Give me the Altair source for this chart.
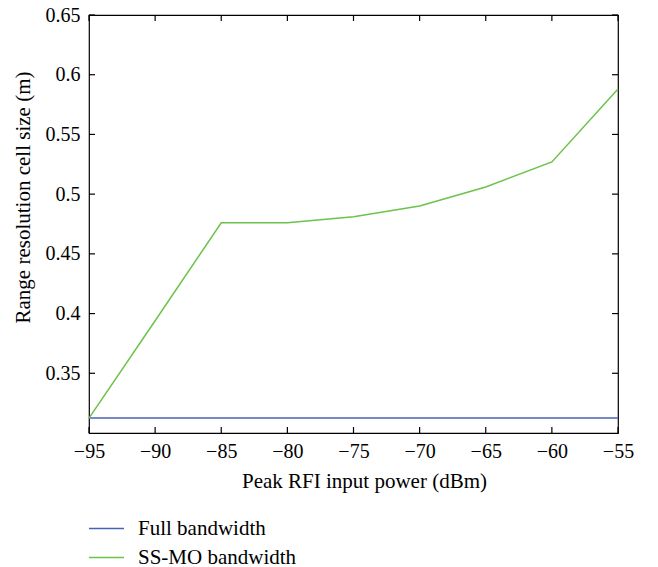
import altair as alt
import pandas as pd

power_dbm = [-95, -90, -85, -80, -75, -70, -65, -60, -55]
full_bw = [0.3125, 0.3125, 0.3125, 0.3125, 0.3125, 0.3125, 0.3125, 0.3125, 0.3125]
ssmo_bw = [0.3125, 0.394, 0.476, 0.476, 0.481, 0.490, 0.506, 0.527, 0.588]
series_names = ["Full bandwidth", "SS-MO bandwidth"]
series_colors = ["#4563b5", "#6cc24a"]
x_ticks = [-95, -90, -85, -80, -75, -70, -65, -60, -55]
y_ticks = [0.35, 0.4, 0.45, 0.5, 0.55, 0.6, 0.65]

rows = []
for x, a, b in zip(power_dbm, full_bw, ssmo_bw):
    rows.append({"power": x, "value": a, "series": series_names[0]})
    rows.append({"power": x, "value": b, "series": series_names[1]})
df = pd.DataFrame(rows)
xt = pd.DataFrame({"t": x_ticks})
yt = pd.DataFrame({"t": y_ticks})

W, H, TL = 529, 418, 6
FONT = "Liberation Serif"
xscale = alt.Scale(domain=[-95, -55], nice=False, zero=False)
yscale = alt.Scale(domain=[0.3, 0.65], nice=False, zero=False)

main = alt.Chart(df).mark_line(strokeWidth=1.5).encode(
    x=alt.X("power:Q", scale=xscale,
            axis=alt.Axis(values=x_ticks, title="Peak RFI input power (dBm)", orient="bottom",
                          ticks=False, domain=False, grid=False, labelFlush=False,
                          labelPadding=8, titleX=275, titleY=48, titleBaseline="middle",
                          titleAlign="center",
                          labelFont=FONT, labelFontSize=20, labelColor="black",
                          titleFont=FONT, titleFontSize=21, titleFontWeight="normal", titleColor="black")),
    y=alt.Y("value:Q", scale=yscale,
            axis=alt.Axis(values=y_ticks, format="~g", title="Range resolution cell size (m)", orient="left",
                          ticks=False, domain=False, grid=False, labelFlush=False,
                          labelPadding=9, titleX=-66, titleY=182, titleBaseline="middle",
                          labelFont=FONT, labelFontSize=20, labelColor="black",
                          titleFont=FONT, titleFontSize=21, titleFontWeight="normal", titleColor="black")),
    color=alt.Color("series:N", sort=series_names,
                    scale=alt.Scale(domain=series_names, range=series_colors),
                    legend=alt.Legend(title=None, orient="none", legendX=-1, legendY=495,
                                      symbolType="stroke", symbolSize=1225, symbolStrokeWidth=1.5,
                                      labelFont=FONT, labelFontSize=21, labelColor="black",
                                      labelOffset=13, rowPadding=-6, padding=0)),
)

tick_style = dict(color="black", strokeWidth=1.2)
bottom_ticks = alt.Chart(xt).mark_rule(**tick_style).encode(
    x=alt.X("t:Q", scale=xscale), y=alt.value(H), y2=alt.value(H - TL))
top_ticks = alt.Chart(xt).mark_rule(**tick_style).encode(
    x=alt.X("t:Q", scale=xscale), y=alt.value(0), y2=alt.value(TL))
left_ticks = alt.Chart(yt).mark_rule(**tick_style).encode(
    y=alt.Y("t:Q", scale=yscale), x=alt.value(0), x2=alt.value(TL))
right_ticks = alt.Chart(yt).mark_rule(**tick_style).encode(
    y=alt.Y("t:Q", scale=yscale), x=alt.value(W), x2=alt.value(W - TL))

chart = alt.layer(main, bottom_ticks, top_ticks, left_ticks, right_ticks).properties(
    width=W, height=H,
    autosize=alt.AutoSizeParams(type="none"),
    padding={"left": 81, "top": 7, "right": 30, "bottom": 134},
).configure_view(stroke="black", strokeWidth=1.2)

chart.save("out.html", embed_options={"renderer": "svg", "actions": False})
